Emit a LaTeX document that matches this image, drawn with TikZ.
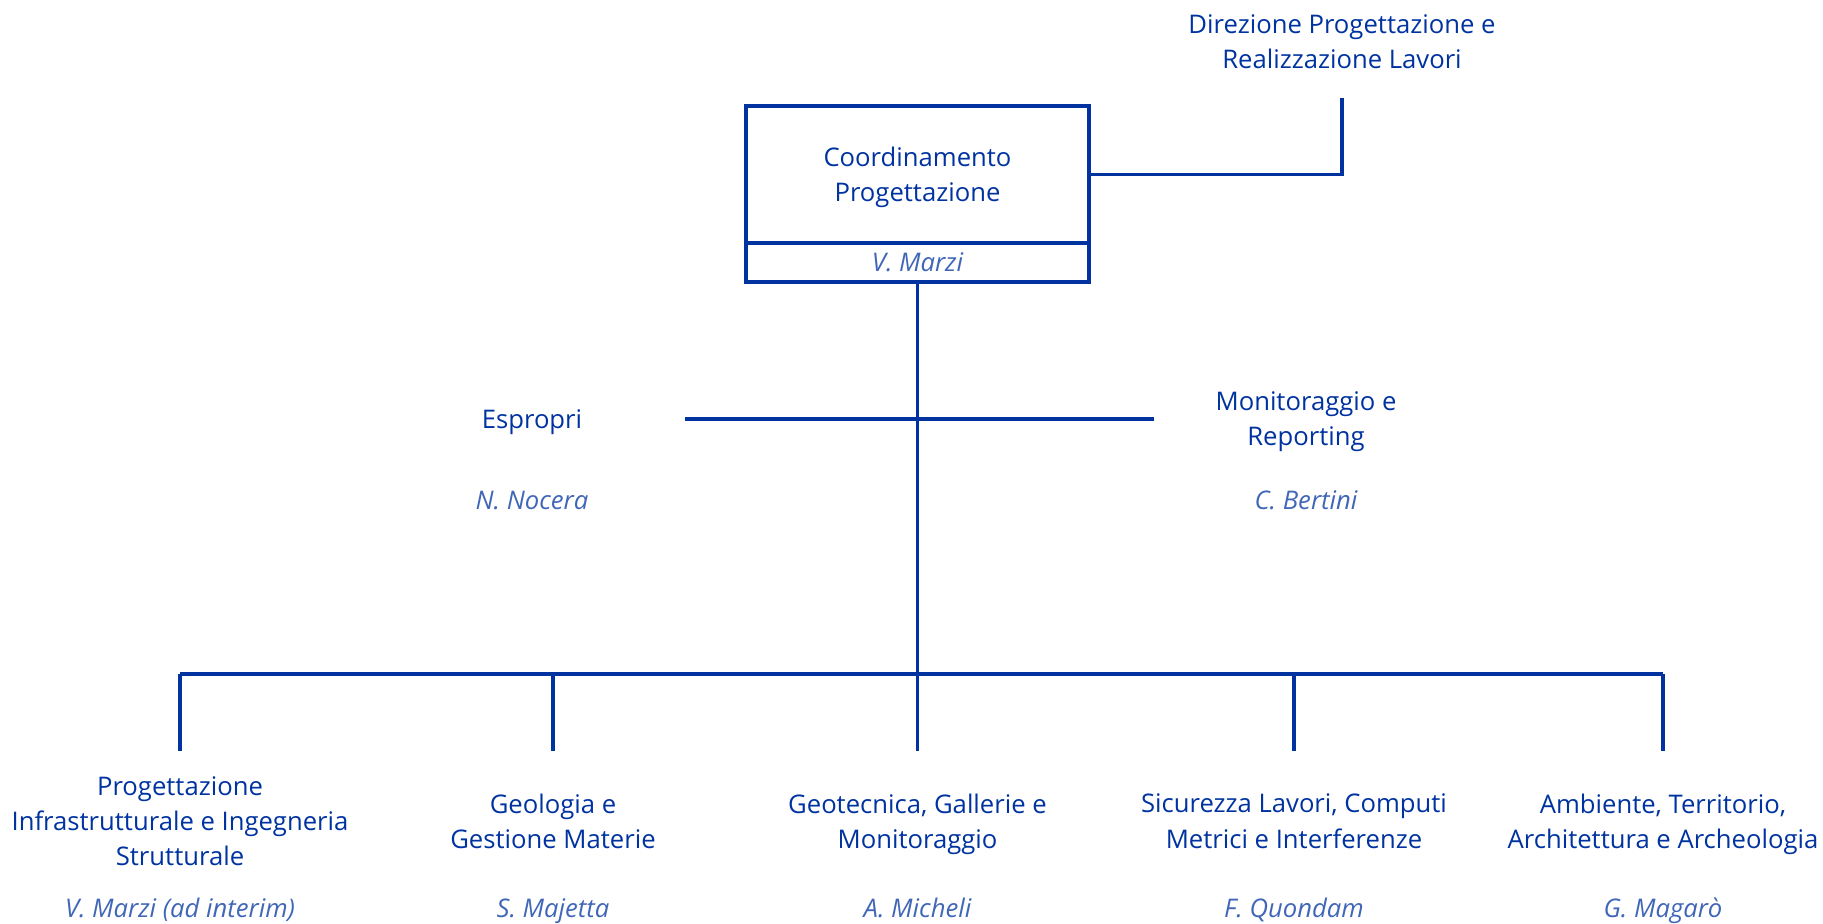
\documentclass[tikz,border=0pt]{standalone}
\usepackage{fontspec}
\setmainfont{Open Sans}
\definecolor{orgblue}{RGB}{0,51,160}
\tikzset{
  org/.style={line width=0.9pt, draw=orgblue},
  unit/.style={align=center, text=orgblue, inner sep=0pt, outer sep=0pt,
    font=\fontsize{7.3pt}{10pt}\selectfont},
  who/.style={unit, text=orgblue!75, text height=0.75em, text depth=0.22em,
    font=\fontsize{7.3pt}{10pt}\selectfont\itshape},
}
\begin{document}
\begin{tikzpicture}
  \useasboundingbox (0,0) rectangle (18.23,-9.23);
  % Head box
  \node[unit, org, text depth=0pt, minimum width=3.43cm, minimum height=1.37cm] (coord)
    at (9.175,-1.745) {Coordinamento\\Progettazione};
  \node[who, org, minimum width=3.43cm, minimum height=0.39cm, anchor=north] (headwho)
    at (coord.south) {V. Marzi};
  % Direzione
  \node[unit] (dir) at (13.42,-0.42) {Direzione Progettazione e\\Realizzazione Lavori};
  \coordinate (dirfoot) at (13.42,-0.98);
  \draw[org] (coord.east) -| (dirfoot);
  % Staff
  \node[unit] (esp) at (5.32,-4.22) {Espropri};
  \node[who] (espwho) at (5.32,-5.0) {N. Nocera};
  \node[unit] (mon) at (13.06,-4.22) {Monitoraggio e\\Reporting};
  \node[who] (monwho) at (13.06,-5.0) {C. Bertini};
  \coordinate (staffL) at (6.85,-4.19);
  \coordinate (staffR) at (11.54,-4.19);
  \draw[org] (staffL) -- (staffR);
  % Units
  \coordinate (hub) at (9.175,-6.74);
  \draw[org] (headwho.south) -- (hub);
  \draw[org] (1.80,-6.74) -- (16.63,-6.74);
  \foreach \n/\x/\txt/\name in {
      1/1.80/{Progettazione\\Infrastrutturale e Ingegneria\\Strutturale}/{V. Marzi (ad interim)},
      2/5.53/{Geologia e\\Gestione Materie}/{S. Majetta},
      3/9.175/{Geotecnica, Gallerie e\\Monitoraggio}/{A. Micheli},
      4/12.94/{Sicurezza Lavori, Computi\\Metrici e Interferenze}/{F. Quondam},
      5/16.63/{Ambiente, Territorio,\\Architettura e Archeologia}/{G. Magarò}}{
    \node[unit, text depth=0pt] (u\n) at (\x,-8.21) {\txt};
    \node[who] (w\n) at (\x,-9.08) {\name};
    \coordinate (d\n) at (\x,-7.51);
    \draw[org] (d\n |- hub) -- (d\n);
  }
\end{tikzpicture}
\end{document}
